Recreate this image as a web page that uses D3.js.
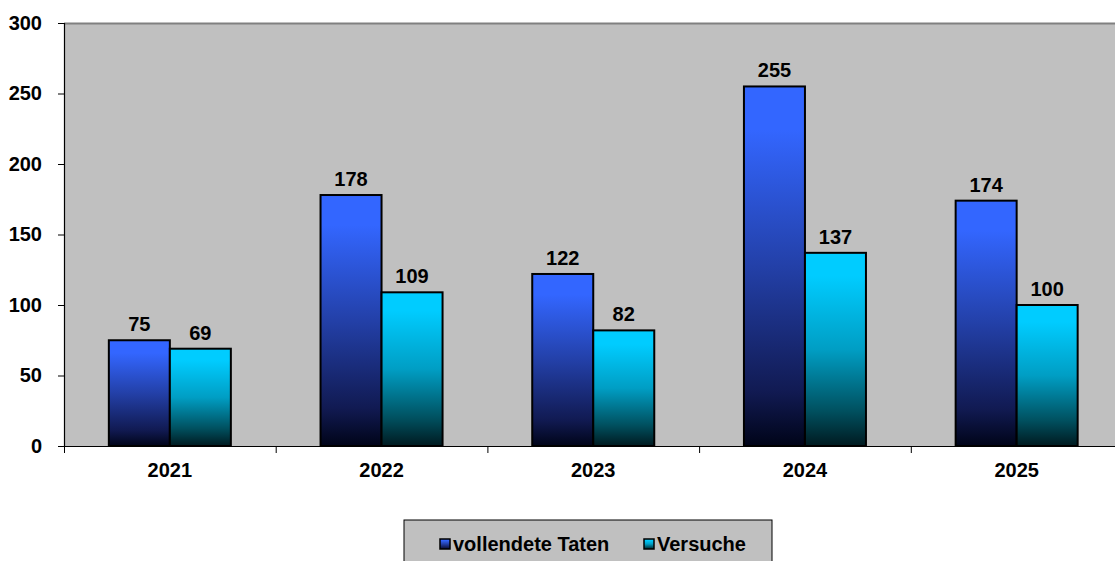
<!DOCTYPE html>
<html>
<head>
<meta charset="utf-8">
<script src="https://cdn.jsdelivr.net/npm/d3@7"></script>
<style>
  body { margin: 0; background: #fff; }
  text { font-family: "Liberation Sans", Arial, sans-serif; font-weight: bold; }
</style>
</head>
<body>
<svg id="chart" width="1115" height="561"></svg>
<script>
var years = ["2021", "2022", "2023", "2024", "2025"]
var seriesNames = ["vollendete Taten", "Versuche"]
var vollendete = [75, 178, 122, 255, 174]
var versuche = [69, 109, 82, 137, 100]
var yTicks = [0, 50, 100, 150, 200, 250, 300]

var svg = d3.select("#chart")
var plotLeft = 64, plotTop = 23, plotBottom = 446, catW = 211.7
var plotRight = plotLeft + catW * years.length

var x = d3.scaleBand().domain(years).range([plotLeft, plotRight])
var xs = d3.scaleBand().domain(seriesNames).range([0, x.bandwidth()]).paddingOuter(0.735).paddingInner(0)
var y = d3.scaleLinear().domain([0, 300]).range([plotBottom, plotTop])

var defs = svg.append("defs")
function grad(id, stops) {
  var g = defs.append("linearGradient").attr("id", id)
    .attr("x1", 0).attr("y1", 0).attr("x2", 0).attr("y2", 1)
  stops.forEach(s => g.append("stop").attr("offset", s[0]).attr("stop-color", s[1]))
}
grad("gBlue", [[0, "#3366FF"], [0.12, "#3366FF"], [0.5, "#2340A8"], [0.85, "#111A52"], [1, "#000418"]])
grad("gCyan", [[0, "#00CCFF"], [0.12, "#00CCFF"], [0.5, "#009EC4"], [0.82, "#00505F"], [1, "#001A20"]])

// plot background
svg.append("rect")
  .attr("x", plotLeft).attr("y", plotTop)
  .attr("width", plotRight - plotLeft).attr("height", plotBottom - plotTop)
  .attr("fill", "#C0C0C0")
svg.append("line")
  .attr("x1", plotLeft).attr("x2", plotRight).attr("y1", plotTop + 0.5).attr("y2", plotTop + 0.5)
  .attr("stroke", "#808080").attr("stroke-width", 2)

// bars
var data = years.map((yr, i) => ({ year: yr, vals: [vollendete[i], versuche[i]] }))
var fills = ["url(#gBlue)", "url(#gCyan)"]

var groups = svg.selectAll("g.year")
  .data(data)
  .enter()
  .append("g")
  .attr("class", "year")
  .attr("transform", d => `translate(${x(d.year)},0)`)

groups.selectAll("rect")
  .data(d => d.vals.map((v, j) => ({ s: seriesNames[j], v: v, j: j })))
  .enter()
  .append("rect")
  .attr("x", d => xs(d.s))
  .attr("y", d => y(d.v))
  .attr("width", xs.bandwidth())
  .attr("height", d => plotBottom - y(d.v))
  .attr("fill", d => fills[d.j])
  .attr("stroke", "#000")
  .attr("stroke-width", 2)

groups.selectAll("text.val")
  .data(d => d.vals.map((v, j) => ({ s: seriesNames[j], v: v })))
  .enter()
  .append("text")
  .attr("class", "val")
  .attr("x", d => xs(d.s) + xs.bandwidth() / 2)
  .attr("y", d => y(d.v) - 9)
  .attr("text-anchor", "middle")
  .attr("font-size", 20)
  .text(d => d.v)

// y axis
var yAxis = svg.append("g")
  .attr("transform", `translate(${plotLeft},0)`)
  .call(d3.axisLeft(y).tickValues(yTicks).tickSize(6).tickPadding(16))
yAxis.select(".domain").attr("stroke", "#000").attr("stroke-width", 1.2).attr("d", `M0.5,${plotTop}V${plotBottom}`)
yAxis.selectAll("text").attr("font-size", 20).attr("fill", "#000")

// x axis
var xAxis = svg.append("g")
  .attr("transform", `translate(0,${plotBottom})`)
  .call(d3.axisBottom(x).tickSize(0).tickPadding(17))
xAxis.select(".domain").attr("stroke", "#000").attr("stroke-width", 1.2).attr("d", `M${plotLeft - 6},0.5H${plotRight}`)
xAxis.selectAll("text").attr("font-size", 20).attr("fill", "#000")
// category separators (incl. the one under the y axis)
xAxis.selectAll("line.sep")
  .data(years)
  .enter()
  .append("line")
  .attr("class", "sep")
  .attr("x1", d => x(d) + 0.5).attr("x2", d => x(d) + 0.5)
  .attr("y1", 0).attr("y2", 7)
  .attr("stroke", "#000")

// legend
var lg = svg.append("g").attr("transform", "translate(404,520)")
lg.append("rect")
  .attr("width", 368).attr("height", 50)
  .attr("fill", "#C0C0C0").attr("stroke", "#000").attr("stroke-width", 1)
var legX = [36, 240]
seriesNames.forEach((name, i) => {
  lg.append("rect")
    .attr("x", legX[i]).attr("y", 19)
    .attr("width", 10).attr("height", 10)
    .attr("fill", fills[i]).attr("stroke", "#000").attr("stroke-width", 1.5)
  lg.append("text")
    .attr("x", legX[i] + 13).attr("y", 31)
    .attr("font-size", 20)
    .text(name)
})
</script>
</body>
</html>
